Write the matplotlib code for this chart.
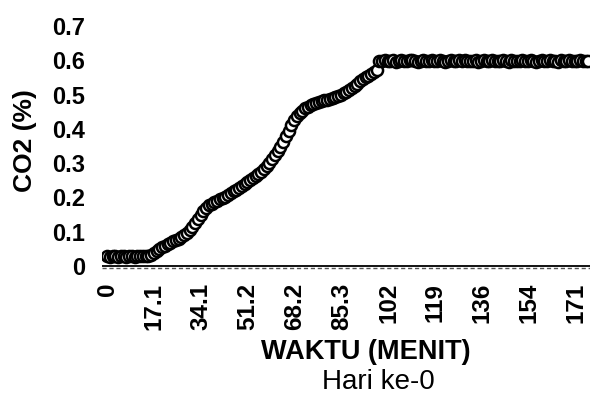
import numpy as np
import matplotlib.pyplot as plt

plt.rcParams['font.family'] = ['Liberation Sans', 'DejaVu Sans']

# CO2 readings (%) every minute
waktu = np.arange(0, 176)
co2 = [0.028, 0.027, 0.029, 0.028, 0.027, 0.028, 0.029, 0.027, 0.028, 0.028,
       0.027, 0.029, 0.028, 0.028, 0.029, 0.030, 0.032, 0.037, 0.044, 0.050,
       0.055, 0.059, 0.063, 0.068, 0.072, 0.076, 0.080, 0.085, 0.090, 0.097,
       0.105, 0.114, 0.125, 0.137, 0.150, 0.161, 0.170, 0.177, 0.182, 0.186,
       0.190, 0.194, 0.198, 0.202, 0.207, 0.212, 0.218, 0.223, 0.228, 0.233,
       0.238, 0.244, 0.250, 0.256, 0.262, 0.268, 0.275, 0.283, 0.292, 0.301,
       0.312, 0.323, 0.335, 0.348, 0.362, 0.378, 0.395, 0.410, 0.425, 0.436,
       0.445, 0.453, 0.460, 0.464, 0.468, 0.472, 0.475, 0.478, 0.480, 0.483,
       0.485, 0.487, 0.490, 0.493, 0.496, 0.499, 0.503, 0.508, 0.513, 0.519,
       0.525, 0.531, 0.538, 0.544, 0.550, 0.555, 0.560, 0.566, 0.572, 0.597,
       0.599, 0.601, 0.597, 0.598, 0.600, 0.596, 0.599, 0.601, 0.598, 0.597,
       0.600, 0.602, 0.598, 0.596, 0.599, 0.600, 0.597, 0.598, 0.601, 0.599,
       0.597, 0.600, 0.598, 0.596, 0.599, 0.601, 0.598, 0.597, 0.600, 0.599,
       0.602, 0.598, 0.597, 0.599, 0.600, 0.596, 0.598, 0.601, 0.599, 0.597,
       0.600, 0.598, 0.597, 0.599, 0.601, 0.598, 0.596, 0.600, 0.599, 0.597,
       0.598, 0.601, 0.599, 0.597, 0.600, 0.598, 0.596, 0.599, 0.601, 0.598,
       0.597, 0.600, 0.599, 0.598, 0.596, 0.600, 0.598, 0.599, 0.601, 0.597,
       0.599, 0.598, 0.600, 0.597, 0.599, 0.598]

xtick_pos = [0, 17.06, 34.12, 51.18, 68.24, 85.3, 102.36, 119.42, 136.48, 153.54, 170.6]
xtick_lab = ['0', '17.1', '34.1', '51.2', '68.2', '85.3', '102', '119', '136', '154', '171']
ytick_pos = [0, 0.1, 0.2, 0.3, 0.4, 0.5, 0.6, 0.7]
ytick_lab = ['0', '0.1', '0.2', '0.3', '0.4', '0.5', '0.6', '0.7']

fig = plt.figure(figsize=(5.9, 4.05), dpi=100)
ax = fig.add_axes([0.173, 0.333, 0.827, 0.603])

ax.plot(waktu, co2, linestyle='none', marker='o', markersize=8,
        markerfacecolor='white', markeredgecolor='black', markeredgewidth=1.8)

ax.axhline(0, color='black', lw=1.3)
ax.axhline(-0.007, color='#555555', lw=1, linestyle=(0, (3, 2)))

ax.set_xlim(-1.8, 175.6)
ax.set_ylim(-0.012, 0.7)
ax.set_xticks(xtick_pos)
ax.set_xticklabels(xtick_lab, rotation=90, fontsize=17.5, fontweight='bold')
ax.set_yticks(ytick_pos)
ax.set_yticklabels(ytick_lab, fontsize=17, fontweight='bold')
ax.tick_params(axis='x', length=0, pad=9)
ax.tick_params(axis='y', length=0, pad=12)
for s in ax.spines.values():
    s.set_visible(False)

fig.text(0.042, 0.652, 'CO2 (%)', rotation=90, ha='center', va='center',
         fontsize=19, fontweight='bold')
fig.text(0.62, 0.131, 'WAKTU (MENIT)', ha='center', va='center',
         fontsize=19.5, fontweight='bold')
fig.text(0.642, 0.057, 'Hari ke-0', ha='center', va='center', fontsize=20)

fig.savefig('out.png', dpi=100)
